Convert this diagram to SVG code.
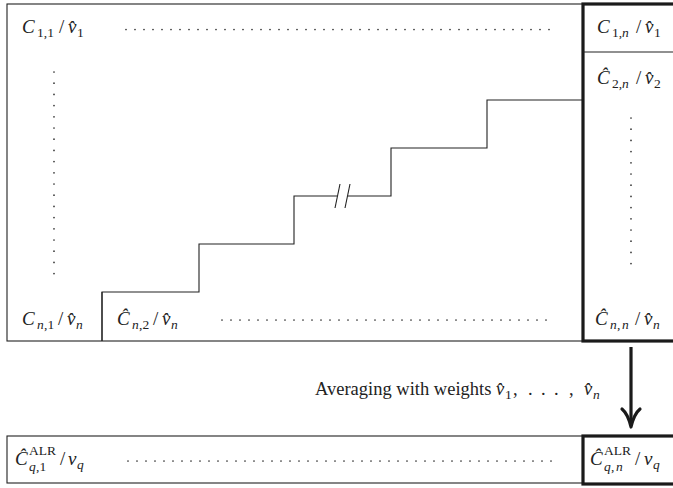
<svg xmlns="http://www.w3.org/2000/svg" width="673" height="488" viewBox="0 0 673 488">
<style>
.thin{fill:none;stroke:#222;stroke-width:1.1}
.thick{fill:none;stroke:#1a1a1a;stroke-width:3.2}
.dots{stroke:#333;stroke-width:1.7;stroke-linecap:round;stroke-dasharray:0 9;fill:none}
.vdots{stroke:#333;stroke-width:1.7;stroke-linecap:round;stroke-dasharray:0 11.2;fill:none}
text{font-family:"Liberation Serif","DejaVu Serif",serif;fill:#222}
.m{font-size:19px}
.i{font-style:italic}
.s{font-size:13.5px}
.t{font-size:18.5px}
</style>
<rect x="0" y="0" width="673" height="488" fill="#fff"/>

<g id="matrix">
  <rect class="thin" x="7" y="4" width="576" height="337"/>
  <line class="dots" x1="126" y1="29.5" x2="558" y2="29.5"/>
  <line class="vdots" x1="54" y1="72" x2="54" y2="274"/>
  <line class="dots" x1="222" y1="320" x2="555" y2="320"/>
</g>

<g id="staircase">
  <polyline class="thin" points="102,341 102,292 199,292 199,244 294,244 294,196 337.5,196"/>
  <polyline class="thin" points="347.5,196 391,196 391,148 487,148 487,100 583,100"/>
  <line class="thin" x1="335" y1="208" x2="340" y2="184"/>
  <line class="thin" x1="345" y1="208" x2="350" y2="184"/>
</g>

<g id="node-c11">
  <text class="m"><tspan class="i" x="22" y="33">C</tspan><tspan class="s" x="37" y="37">1,1</tspan><tspan x="59" y="33">/</tspan><tspan class="i" x="68" y="33">v̂</tspan><tspan class="s" x="77" y="37">1</tspan></text>
</g>

<g id="node-cn1">
  <text class="m"><tspan class="i" x="22" y="325">C</tspan><tspan class="s i" x="37" y="329">n</tspan><tspan class="s" x="44" y="329">,1</tspan><tspan x="58" y="325">/</tspan><tspan class="i" x="67" y="325">v̂</tspan><tspan class="s i" x="76" y="329">n</tspan></text>
</g>

<g id="node-cn2">
  <line class="thin" x1="102" y1="292" x2="102" y2="341"/>
  <text class="m"><tspan class="i" x="117" y="325">Ĉ</tspan><tspan class="s i" x="132" y="329">n</tspan><tspan class="s" x="139" y="329">,2</tspan><tspan x="153" y="325">/</tspan><tspan class="i" x="162" y="325">v̂</tspan><tspan class="s i" x="171" y="329">n</tspan></text>
</g>

<g id="column-n">
  <rect class="thick" x="583" y="4" width="100" height="337"/>
  <line class="thin" x1="583" y1="52" x2="673" y2="52"/>
  <line class="vdots" x1="631" y1="118" x2="631" y2="273"/>
  <text class="m"><tspan class="i" x="597" y="33">C</tspan><tspan class="s" x="612" y="37">1,</tspan><tspan class="s i" x="622" y="37">n</tspan><tspan x="636" y="33">/</tspan><tspan class="i" x="645" y="33">v̂</tspan><tspan class="s" x="654" y="37">1</tspan></text>
  <text class="m"><tspan class="i" x="597" y="84">Ĉ</tspan><tspan class="s" x="612" y="88">2,</tspan><tspan class="s i" x="622" y="88">n</tspan><tspan x="636" y="84">/</tspan><tspan class="i" x="645" y="84">v̂</tspan><tspan class="s" x="654" y="88">2</tspan></text>
  <text class="m"><tspan class="i" x="595" y="325">Ĉ</tspan><tspan class="s i" x="610" y="329">n</tspan><tspan class="s" x="617" y="329">,</tspan><tspan class="s i" x="622" y="329">n</tspan><tspan x="635" y="325">/</tspan><tspan class="i" x="644" y="325">v̂</tspan><tspan class="s i" x="653" y="329">n</tspan></text>
</g>

<g id="result-row">
  <rect class="thin" x="7" y="436" width="576" height="47"/>
  <line class="dots" x1="128" y1="461" x2="560" y2="461"/>
  <text class="m"><tspan class="i" x="15" y="465">Ĉ</tspan><tspan class="s" x="29" y="455">ALR</tspan><tspan class="s i" x="29" y="471">q</tspan><tspan class="s" x="36" y="471">,1</tspan><tspan x="60" y="465">/</tspan><tspan class="i" x="68" y="465">v</tspan><tspan class="s i" x="77" y="469">q</tspan></text>
</g>

<g id="result-n">
  <rect class="thick" x="583" y="436" width="100" height="48"/>
  <text class="m"><tspan class="i" x="590" y="465">Ĉ</tspan><tspan class="s" x="604" y="455">ALR</tspan><tspan class="s i" x="604" y="471">q</tspan><tspan class="s" x="611" y="471">,</tspan><tspan class="s i" x="616" y="471">n</tspan><tspan x="635" y="465">/</tspan><tspan class="i" x="644" y="465">v</tspan><tspan class="s i" x="653" y="469">q</tspan></text>
</g>

<g id="connectors">
  <line class="thick" x1="631" y1="347" x2="631" y2="425"/>
  <path class="thick" d="M622,409 Q628,414 631,427 Q634,414 640,409" stroke-linejoin="round" stroke-linecap="round"/>
  <text class="t"><tspan x="315" y="395">Averaging with weights</tspan><tspan class="i" x="496" y="395">v̂</tspan><tspan class="s" x="505" y="399">1</tspan><tspan x="513" y="395">,</tspan><tspan x="528" y="395">.</tspan><tspan x="541" y="395">.</tspan><tspan x="554" y="395">.</tspan><tspan x="569" y="395">,</tspan><tspan class="i" x="584" y="395">v̂</tspan><tspan class="s i" x="593" y="399">n</tspan></text>
</g>
</svg>
